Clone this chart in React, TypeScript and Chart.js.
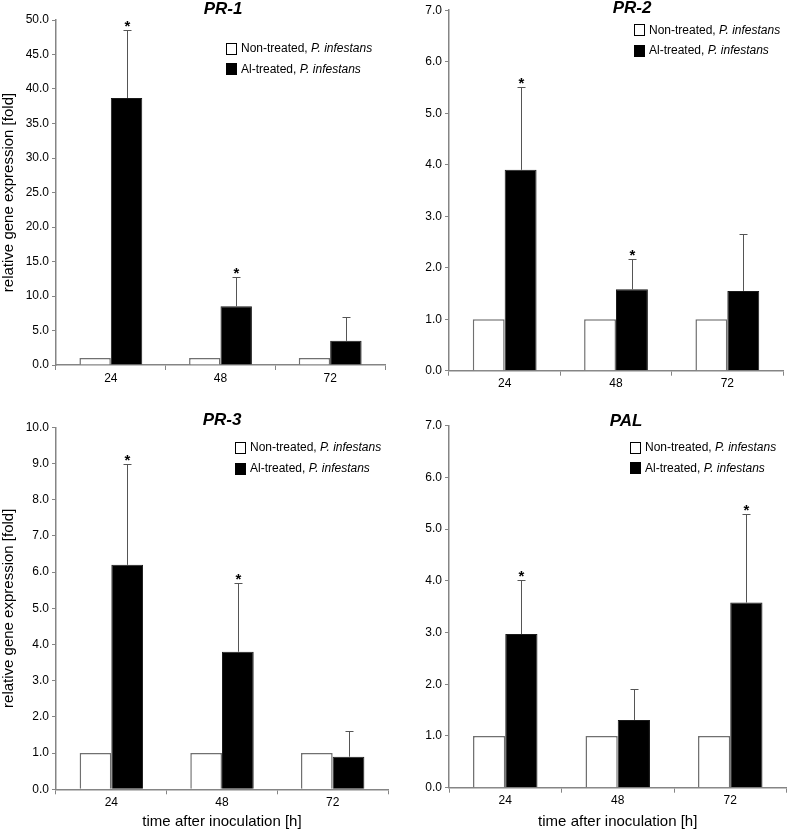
import React, { useEffect, useRef } from "react";
import { Chart, registerables } from "chart.js";

Chart.register(...registerables);

const FONT = "'Liberation Sans', Arial, Helvetica, sans-serif";

// ---------- data ----------
const hours = ["24", "48", "72"];
const seriesLabels = ["Non-treated, ", "Al-treated, "];
const pathogen = "P. infestans";
const yAxisTitle = "relative gene expression [fold]";
const xAxisTitle = "time after inoculation [h]";

const pr1NonTreated = [1, 1, 1];
const pr1AlTreated = [38.7, 8.5, 3.5];
const pr1Sd = [9.8, 4.2, 3.4];
const pr1Significant = [true, true, false];

const pr2NonTreated = [1, 1, 1];
const pr2AlTreated = [3.9, 1.58, 1.55];
const pr2Sd = [1.6, 0.58, 1.1];
const pr2Significant = [true, true, false];

const pr3NonTreated = [1, 1, 1];
const pr3AlTreated = [6.2, 3.8, 0.9];
const pr3Sd = [2.8, 1.9, 0.7];
const pr3Significant = [true, true, false];

const palNonTreated = [1, 1, 1];
const palAlTreated = [2.97, 1.31, 3.58];
const palSd = [1.04, 0.59, 1.71];
const palSignificant = [true, false, true];

const pr1YMax = 50, pr1YStep = 5;
const pr2YMax = 7, pr2YStep = 1;
const pr3YMax = 10, pr3YStep = 1;
const palYMax = 7, palYStep = 1;

// ---------- layout (page coordinates) ----------
const panels = [
  {
    title: "PR-1", non: pr1NonTreated, al: pr1AlTreated, sd: pr1Sd, sig: pr1Significant,
    yMax: pr1YMax, yStep: pr1YStep, yTitle: true, xTitle: false,
    box: { left: 0, top: 0, w: 393, h: 405 },
    area: { left: 56, right: 385, top: 20, bottom: 365 },
    titlePos: [223, 9], legendPos: [226, 47.5],
  },
  {
    title: "PR-2", non: pr2NonTreated, al: pr2AlTreated, sd: pr2Sd, sig: pr2Significant,
    yMax: pr2YMax, yStep: pr2YStep, yTitle: false, xTitle: false,
    box: { left: 393, top: 0, w: 394, h: 405 },
    area: { left: 449, right: 783, top: 9.3, bottom: 370.7 },
    titlePos: [632, 8], legendPos: [634.3, 29.3],
  },
  {
    title: "PR-3", non: pr3NonTreated, al: pr3AlTreated, sd: pr3Sd, sig: pr3Significant,
    yMax: pr3YMax, yStep: pr3YStep, yTitle: true, xTitle: true,
    box: { left: 0, top: 405, w: 393, h: 426 },
    area: { left: 56, right: 388, top: 427.3, bottom: 789.3 },
    titlePos: [222, 420], legendPos: [235.3, 446.8],
  },
  {
    title: "PAL", non: palNonTreated, al: palAlTreated, sd: palSd, sig: palSignificant,
    yMax: palYMax, yStep: palYStep, yTitle: false, xTitle: true,
    box: { left: 393, top: 405, w: 394, h: 426 },
    area: { left: 449, right: 786.5, top: 425.7, bottom: 787.7 },
    titlePos: [626, 421], legendPos: [630, 446.7],
  },
];

const AXIS_COLOR = "#858585";

const overlayPlugin = {
  id: "overlay",
  afterDatasetsDraw(chart: any, _args: any, opts: any) {
    const ctx = chart.ctx;
    const yScale = chart.scales.y;
    const meta = chart.getDatasetMeta(1);
    const values = chart.data.datasets[1].data;
    ctx.save();
    opts.sd.forEach((sd: number, i: number) => {
      const bar = meta.data[i];
      const x = Math.round(bar.x) + 0.5;
      const top = Math.round(yScale.getPixelForValue(values[i] + sd)) + 0.5;
      ctx.strokeStyle = "#555555";
      ctx.lineWidth = 1;
      ctx.beginPath();
      ctx.moveTo(x, bar.y);
      ctx.lineTo(x, top);
      ctx.moveTo(x - 4, top);
      ctx.lineTo(x + 4, top);
      ctx.stroke();
      if (opts.sig[i]) {
        ctx.fillStyle = "#000";
        ctx.font = `bold 15px ${FONT}`;
        ctx.textAlign = "center";
        ctx.textBaseline = "alphabetic";
        ctx.fillText("*", x, top + 0.5);
      }
    });
    ctx.restore();
  },
  afterDraw(chart: any, _args: any, opts: any) {
    const ctx = chart.ctx;
    ctx.save();
    // title
    ctx.fillStyle = "#000";
    ctx.font = `italic bold 17px ${FONT}`;
    ctx.textAlign = "center";
    ctx.textBaseline = "middle";
    ctx.fillText(opts.title, opts.titleX, opts.titleY);
    // legend
    const fills = ["#ffffff", "#000000"];
    opts.labels.forEach((label: string, i: number) => {
      const cy = opts.legendY + i * 20.7;
      const bx = Math.round(opts.legendX);
      const by = Math.round(cy - 5);
      ctx.fillStyle = fills[i];
      ctx.fillRect(bx, by, 11, 12);
      ctx.strokeStyle = "#000";
      ctx.lineWidth = 1;
      ctx.strokeRect(bx + 0.5, by + 0.5, 10, 11);
      ctx.fillStyle = "#000";
      ctx.textAlign = "left";
      ctx.textBaseline = "middle";
      ctx.font = `12px ${FONT}`;
      const tx = bx + 15;
      ctx.fillText(label, tx, cy + 1);
      const w = ctx.measureText(label).width;
      ctx.font = `italic 12px ${FONT}`;
      ctx.fillText(opts.pathogen, tx + w, cy + 1);
    });
    ctx.restore();
  },
};

function Panel({ p }: { p: any }) {
  const ref = useRef<HTMLCanvasElement | null>(null);
  useEffect(() => {
    const canvas = ref.current;
    if (!canvas) return;
    const a = p.area, b = p.box;
    const yWidth = a.left - b.left;
    const padRight = b.left + b.w - a.right;
    const padTop = a.top - b.top;
    const xHeight = b.top + b.h - a.bottom;
    const chart = new Chart(canvas, {
      type: "bar",
      data: {
        labels: hours,
        datasets: [
          {
            label: seriesLabels[0] + pathogen,
            data: p.non,
            backgroundColor: "#ffffff",
            borderColor: "#707070",
            borderWidth: 1.5,
            categoryPercentage: 0.573,
            barPercentage: 1.0,
          },
          {
            label: seriesLabels[1] + pathogen,
            data: p.al,
            backgroundColor: "#000000",
            borderColor: "#1a1a1a",
            borderWidth: 1,
            categoryPercentage: 0.573,
            barPercentage: 1.0,
          },
        ],
      },
      options: {
        responsive: false,
        animation: false,
        events: [],
        layout: { padding: { left: 0, right: padRight, top: padTop, bottom: 0 } },
        plugins: {
          legend: { display: false },
          title: { display: false },
          tooltip: { enabled: false },
          overlay: {
            sd: p.sd,
            sig: p.sig,
            title: p.title,
            titleX: p.titlePos[0] - b.left,
            titleY: p.titlePos[1] - b.top,
            legendX: p.legendPos[0] - b.left,
            legendY: p.legendPos[1] - b.top,
            labels: seriesLabels,
            pathogen: pathogen,
          },
        } as any,
        scales: {
          x: {
            grid: {
              display: true,
              drawOnChartArea: false,
              drawTicks: true,
              tickLength: 5,
              color: AXIS_COLOR,
              offset: true,
            },
            border: { display: true, color: AXIS_COLOR, width: 1.5 },
            ticks: { color: "#000", font: { family: FONT, size: 12 }, padding: 1 },
            title: {
              display: p.xTitle,
              text: xAxisTitle,
              color: "#000",
              font: { family: FONT, size: 15 },
              padding: { top: 0, bottom: 0 },
            },
            afterFit: (s: any) => {
              s.height = xHeight;
            },
          },
          y: {
            min: 0,
            max: p.yMax,
            grid: {
              display: true,
              drawOnChartArea: false,
              drawTicks: true,
              tickLength: 4,
              color: AXIS_COLOR,
            },
            border: { display: true, color: AXIS_COLOR, width: 1.5 },
            ticks: {
              stepSize: p.yStep,
              color: "#000",
              font: { family: FONT, size: 12 },
              padding: 3,
              callback: (v: any) => Number(v).toFixed(1),
            },
            title: {
              display: p.yTitle,
              text: yAxisTitle,
              color: "#000",
              font: { family: FONT, size: 15 },
              padding: { top: 0, bottom: 0 },
            },
            afterFit: (s: any) => {
              s.width = yWidth;
            },
          },
        },
      } as any,
      plugins: [overlayPlugin],
    });
    return () => chart.destroy();
  }, [p]);
  return (
    <canvas
      ref={ref}
      width={p.box.w}
      height={p.box.h}
      style={{
        position: "absolute",
        left: p.box.left,
        top: p.box.top,
        width: p.box.w,
        height: p.box.h,
      }}
    />
  );
}

export default function App() {
  return (
    <div
      style={{
        position: "absolute",
        left: 0,
        top: 0,
        width: 787,
        height: 831,
        background: "#ffffff",
        overflow: "hidden",
      }}
    >
      {panels.map((p, i) => (
        <Panel key={i} p={p} />
      ))}
    </div>
  );
}
